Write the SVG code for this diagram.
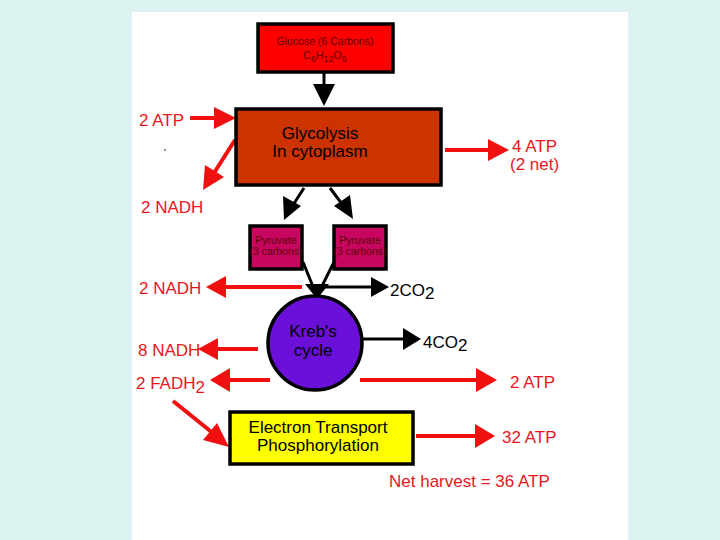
<svg xmlns="http://www.w3.org/2000/svg" width="720" height="540" viewBox="0 0 720 540">
<defs>
<style>
.lbl{font-family:"Liberation Sans",Arial,sans-serif;font-size:17px;fill:#e8161c}
.blk{font-family:"Liberation Sans",Arial,sans-serif;font-size:17px;fill:#000}
.small{font-family:"Liberation Sans",Arial,sans-serif;font-size:10.5px;fill:#5a0000}
.box{stroke:#000;stroke-width:3.5}
.rl{stroke:#f01010;stroke-width:4;fill:none}
.bl{stroke:#000;stroke-width:3;fill:none}
.rh{fill:#f01010}
.bh{fill:#000}
</style>
</defs>
<rect width="720" height="540" fill="#dcf3f1"/>
<rect x="132" y="12" width="496" height="528" fill="#fff"/>

<g id="connectors">
<line class="bl" x1="324" y1="72" x2="324" y2="90"/>
<polygon class="bh" points="313,84 335,84 324,106"/>
<line class="rl" x1="190" y1="118" x2="218" y2="118"/>
<polygon class="rh" points="214,107 236,118 214,129"/>
<line class="rl" x1="235" y1="140" x2="214" y2="173"/>
<polygon class="rh" points="203,190 205,165 224,177"/>
<line class="rl" x1="445" y1="150" x2="492" y2="150"/>
<polygon class="rh" points="488,139 509,150 488,161"/>
<line class="bl" x1="304" y1="188" x2="293" y2="205"/>
<polygon class="bh" points="284,220 283,196 301,206"/>
<line class="bl" x1="330" y1="188" x2="342" y2="204"/>
<polygon class="bh" points="353,219 334,206 350,195"/>
<line class="bl" x1="303" y1="262" x2="316" y2="294"/>
<line class="bl" x1="334" y1="262" x2="318" y2="294"/>
<polygon class="bh" points="305,284 329,284 317,299"/>
<line class="rl" x1="302" y1="287" x2="222" y2="287"/>
<polygon class="rh" points="206,287 226,276 226,298"/>
<line class="bl" x1="325" y1="287" x2="372" y2="287"/>
<polygon class="bh" points="371,277 389,287 371,297"/>
<line class="bl" x1="360" y1="339" x2="405" y2="339"/>
<polygon class="bh" points="403,328 421,339 403,350"/>
<line class="rl" x1="258" y1="349" x2="214" y2="349"/>
<polygon class="rh" points="198,349 218,338 218,360"/>
<line class="rl" x1="270" y1="380" x2="226" y2="380"/>
<polygon class="rh" points="210,380 230,368 230,392"/>
<line class="rl" x1="360" y1="380" x2="480" y2="380"/>
<polygon class="rh" points="476,368 497,380 476,392"/>
<line class="rl" x1="173" y1="401" x2="214" y2="434"/>
<polygon class="rh" points="229,447 203,440 217,423"/>
<line class="rl" x1="416" y1="436" x2="478" y2="436"/>
<polygon class="rh" points="475,424 495,436 475,448"/>
</g>

<g id="glucose">
<rect class="box" x="258" y="24" width="135" height="48" fill="#ff0000"/>
<text class="small" x="325" y="45" text-anchor="middle">Glucose (6 Carbons)</text>
<text class="small" x="325" y="59" text-anchor="middle" font-size="11">C<tspan dy="3" font-size="9">6</tspan><tspan dy="-3">H</tspan><tspan dy="3" font-size="9">12</tspan><tspan dy="-3">O</tspan><tspan dy="3" font-size="9">6</tspan></text>
</g>

<g id="glycolysis">
<rect class="box" x="236" y="109" width="205" height="76" fill="#cc3300"/>
<text class="blk" x="320" y="139" text-anchor="middle" fill="#200000">Glycolysis</text>
<text class="blk" x="320" y="157" text-anchor="middle" fill="#200000">In cytoplasm</text>
</g>

<g id="pyruvate1">
<rect class="box" x="250" y="226" width="52" height="43" fill="#c8065f"/>
<text class="small" x="276" y="244" text-anchor="middle" font-size="9">Pyruvate</text>
<text class="small" x="276" y="255" text-anchor="middle" font-size="9">(3 carbons)</text>
</g>

<g id="pyruvate2">
<rect class="box" x="334" y="226" width="52" height="43" fill="#c8065f"/>
<text class="small" x="360" y="244" text-anchor="middle" font-size="9">Pyruvate</text>
<text class="small" x="360" y="255" text-anchor="middle" font-size="9">(3 carbons)</text>
</g>

<g id="krebs">
<circle class="box" cx="315" cy="343" r="47" fill="#6a10d8"/>
<text class="blk" x="313" y="337" text-anchor="middle" fill="#1a0040" font-size="16">Kreb's</text>
<text class="blk" x="313" y="356" text-anchor="middle" fill="#1a0040" font-size="16">cycle</text>
</g>

<g id="etc">
<rect class="box" x="230" y="412" width="183" height="52" fill="#ffff00"/>
<text class="blk" x="318" y="433" text-anchor="middle">Electron Transport</text>
<text class="blk" x="318" y="451" text-anchor="middle">Phosphorylation</text>
</g>

<g id="labels">
<text class="lbl" x="139" y="126">2 ATP</text>
<circle cx="165" cy="150" r="0.8" fill="#000"/>
<text class="lbl" x="141" y="213">2 NADH</text>
<text class="lbl" x="512" y="152">4 ATP</text>
<text class="lbl" x="510" y="170">(2 net)</text>
<text class="lbl" x="139" y="294">2 NADH</text>
<text class="blk" x="390" y="296">2CO<tspan dy="3">2</tspan></text>
<text class="blk" x="423" y="348">4CO<tspan dy="3">2</tspan></text>
<text class="lbl" x="138" y="356">8 NADH</text>
<text class="lbl" x="136" y="389">2 FADH<tspan dy="4">2</tspan></text>
<text class="lbl" x="510" y="388">2 ATP</text>
<text class="lbl" x="502" y="443">32 ATP</text>
<text class="lbl" x="389" y="487">Net harvest = 36 ATP</text>
</g>
</svg>
